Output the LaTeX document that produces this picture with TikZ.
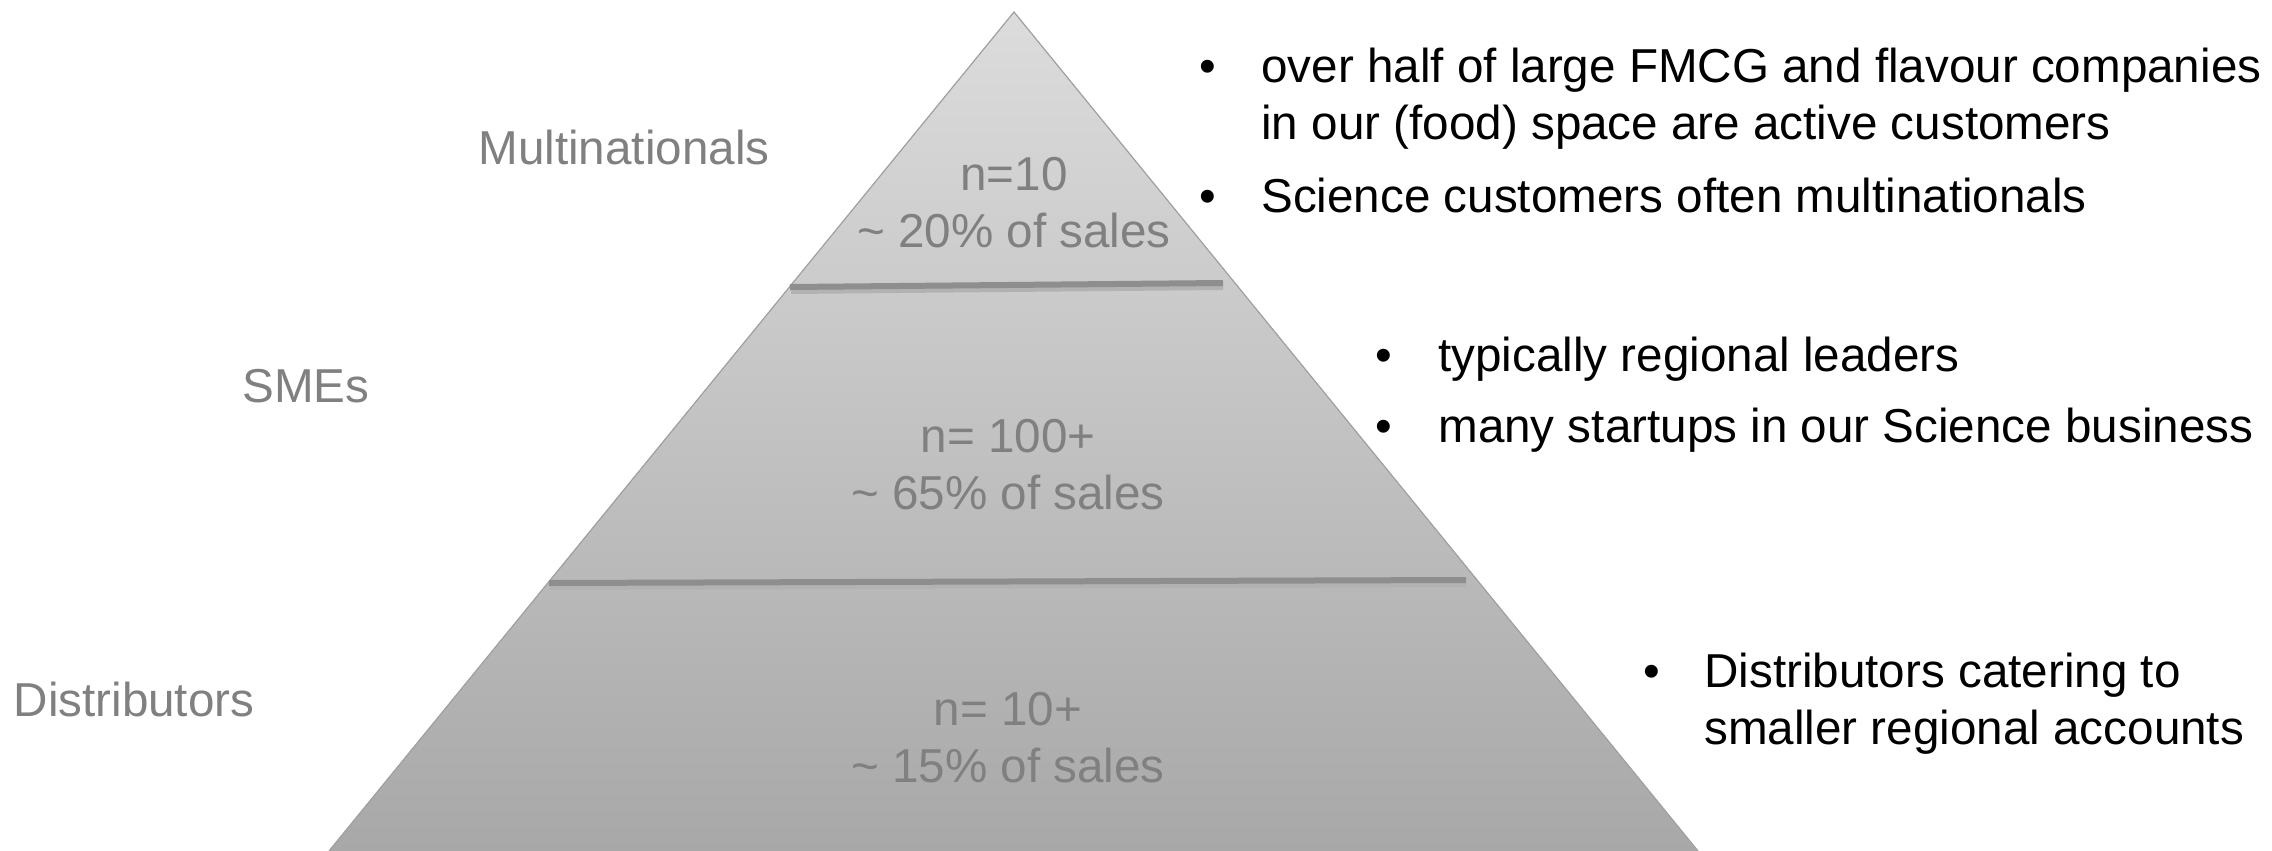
\documentclass[tikz,border=0pt]{standalone}
\usepackage{fontspec}
\setmainfont{Liberation Sans}
\usetikzlibrary{positioning}
\definecolor{labelgray}{HTML}{808080}
\definecolor{edgegray}{HTML}{A0A0A0}
\definecolor{dividergray}{HTML}{8E8E8E}
\definecolor{shadowgray}{HTML}{B2B2B2}
\definecolor{toptone}{HTML}{DCDCDC}
\definecolor{basetone}{HTML}{A8A8A8}
\begin{document}
\begin{tikzpicture}[x = .5pt, y = -.5pt,
    every node/.style = {inner sep = 0pt, font = \fontsize{23.8}{28.5}\selectfont},
    tier/.style = {labelgray, anchor = base},
    share/.style = {labelgray, align = center, anchor = base},
    note/.style = {align = left, anchor = base west},
    dot/.style = {anchor = base},
    divider/.style = {line width = 3pt, dividergray},
    dividershadow/.style = {line width = 3pt, shadowgray}]
  \useasboundingbox (0,0) rectangle (2272,851);
  % pyramid body
  \fill [top color = toptone, bottom color = basetone] (1014,12) -- (1698,851) -- (329,851) -- cycle;
  \draw [edgegray, line width = .6pt] (329,851) -- (1014,12) -- (1698,851);
  % tier dividers
  \draw [dividershadow] (791,291) -- (1223,287);
  \draw [divider] (790,287) -- (1223,283);
  \draw [dividershadow] (550,587) -- (1466,584);
  \draw [divider] (549,583) -- (1466,580);
  % tier names
  \node [tier] (multi) at (624,164) {Multinationals};
  \node [tier] (smes) at (306,402) {SMEs};
  \node [tier] (distr) at (134,716) {Distributors};
  % shares (base = last line)
  \node [share] (top) at (1014,247) {n=10\\\textasciitilde{} 20\% of sales};
  \node [share] (mid) at (1008,509) {n= 100+\\\textasciitilde{} 65\% of sales};
  \node [share] (low) at (1008,782) {n= 10+\\\textasciitilde{} 15\% of sales};
  % notes
  \node [note] (n1) at (1261,139) {over half of large FMCG and flavour companies\\in our (food) space are active customers};
  \node [note] (n2) at (1261,212) {Science customers often multinationals};
  \node [note] (n3) at (1438,371) {typically regional leaders};
  \node [note] (n4) at (1438,442) {many startups in our Science business};
  \node [note] (n5) at (1704,744) {Distributors catering to\\smaller regional accounts};
  \node [dot] at (1208,82) {\textbullet};
  \node [dot] at (1208,212) {\textbullet};
  \node [dot] at (1384,371) {\textbullet};
  \node [dot] at (1384,442) {\textbullet};
  \node [dot] at (1652,687) {\textbullet};
\end{tikzpicture}
\end{document}
